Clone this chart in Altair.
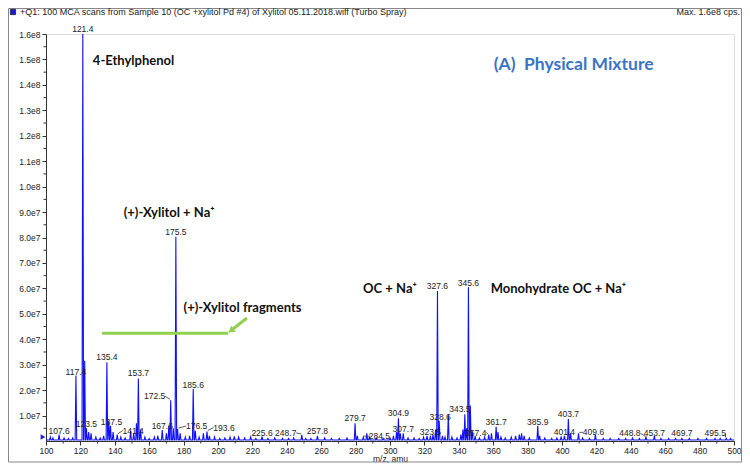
import altair as alt
import pandas as pd

# ---------------- data ----------------
# (m/z, apex intensity in units of 1e7 cps)
major_peaks = [
    (117.4, 2.57), (121.4, 16.0), (122.5, 3.15), (135.4, 3.10), (153.7, 2.46),
    (172.5, 1.60), (175.5, 8.03), (185.6, 2.04), (279.7, 0.70), (304.9, 0.89),
    (327.6, 5.90), (328.6, 0.80), (333.9, 1.05), (343.5, 1.05), (345.6, 6.04),
    (346.7, 1.40), (361.7, 0.56), (385.9, 0.60), (403.7, 0.86),
]
minor_peaks = [
    (102.5, 0.15), (104.0, 0.12), (107.6, 0.25), (110.5, 0.12), (113.0, 0.10),
    (115.5, 0.12), (123.5, 0.50), (124.8, 0.35), (126.2, 0.30), (129.0, 0.15),
    (131.5, 0.12), (133.5, 0.20), (136.5, 0.80), (137.5, 0.60), (139.0, 0.35),
    (141.4, 0.25), (143.5, 0.15), (146.0, 0.12), (149.2, 0.40), (151.0, 0.30),
    (152.6, 0.70), (155.0, 0.45), (157.5, 0.15), (160.0, 0.10), (163.0, 0.15),
    (165.0, 0.20), (167.6, 0.43), (170.0, 0.30), (171.4, 0.60), (174.0, 0.50),
    (176.5, 0.47), (178.0, 0.30), (181.0, 0.15), (183.5, 0.20), (186.8, 0.40),
    (189.0, 0.15), (191.5, 0.30), (193.6, 0.37), (195.0, 0.20), (198.0, 0.15),
    (201.0, 0.10), (204.0, 0.12), (207.0, 0.15), (209.5, 0.18), (212.0, 0.15),
    (215.5, 0.12), (219.0, 0.15), (222.0, 0.10), (225.6, 0.17), (229.0, 0.10),
    (233.0, 0.12), (237.5, 0.10), (241.0, 0.10), (244.0, 0.12), (248.7, 0.24),
    (251.0, 0.10), (254.0, 0.10), (257.8, 0.20), (262.0, 0.12), (266.0, 0.10),
    (270.5, 0.10), (275.0, 0.12), (281.0, 0.20), (284.5, 0.15), (286.5, 0.30),
    (288.0, 0.15), (292.0, 0.12), (296.0, 0.10), (300.0, 0.12), (302.0, 0.20),
    (303.8, 0.35), (306.0, 0.30), (307.7, 0.30), (310.5, 0.12), (314.0, 0.12),
    (317.0, 0.10), (319.5, 0.15), (321.5, 0.20), (323.5, 0.20), (325.0, 0.25),
    (326.5, 0.45), (330.5, 0.20), (332.0, 0.15), (336.0, 0.15), (339.0, 0.12),
    (341.2, 0.25), (342.4, 0.45), (344.5, 0.50), (347.8, 0.40), (349.5, 0.20),
    (352.0, 0.12), (355.0, 0.15), (357.4, 0.25), (359.0, 0.30), (362.8, 0.35),
    (364.5, 0.15), (367.0, 0.12), (370.5, 0.15), (373.0, 0.20), (375.2, 0.25),
    (376.5, 0.30), (378.0, 0.20), (381.0, 0.12), (387.0, 0.20), (390.0, 0.12),
    (394.0, 0.10), (397.0, 0.12), (399.5, 0.15), (401.4, 0.20), (405.0, 0.30),
    (409.6, 0.30), (412.0, 0.12), (416.0, 0.10), (419.4, 0.25), (424.0, 0.10),
    (428.0, 0.10), (433.0, 0.10), (437.0, 0.10), (441.0, 0.12), (445.0, 0.10),
    (448.8, 0.15), (453.7, 0.20), (457.5, 0.10), (462.0, 0.10), (466.0, 0.10),
    (469.7, 0.10), (474.0, 0.10), (479.0, 0.10), (484.0, 0.10), (489.0, 0.10),
    (492.0, 0.10), (495.5, 0.10), (498.0, 0.10),
]
baseline_e7 = 0.04

# labelled peaks
label_mz = [107.6, 117.4, 121.4, 123.5, 135.4, 137.5, 141.4, 153.7, 167.6, 172.5,
            175.5, 176.5, 185.6, 193.6, 225.6, 248.7, 257.8, 279.7, 284.5, 304.9,
            307.7, 323.5, 327.6, 328.6, 343.5, 345.6, 357.4, 361.7, 385.9, 401.4,
            403.7, 409.6, 448.8, 453.7, 469.7, 495.5]
# label offsets from the peak apex (pixels: right, up)
label_dx = [0, 0, 0, 0, 0, 1, 16, 0, 0, -16,
            0, 19, 0, 17, 0, -16, 0, 0, 16, 0,
            0, 0, 0, 1, -5, 0, -13, 0, 0, 0,
            0, 15, -16, 0, 0, -11]
label_dy = [4, 4, 5, 4, 5, 4, 4, 5, 4, 4,
            5, 3, 4, 4, 3.5, 2, 5, 5, 1, 5,
            4, 4, 5, 4, 5, 4, 2, 5, 4, 3.5,
            5.5, 1, 4, 2.6, 5, 5]

x_ticks = [100, 120, 140, 160, 180, 200, 220, 240, 260, 280, 300,
           320, 340, 360, 380, 400, 420, 440, 460, 480, 500]
x_minor = [110, 130, 150, 170, 190, 210, 230, 250, 270, 290,
           310, 330, 350, 370, 390, 410, 430, 450, 470, 490]
y_ticks = [1e7, 2e7, 3e7, 4e7, 5e7, 6e7, 7e7, 8e7, 9e7, 1e8,
           1.1e8, 1.2e8, 1.3e8, 1.4e8, 1.5e8, 1.6e8]
y_minor = [5e6, 1.5e7, 2.5e7, 3.5e7, 4.5e7, 5.5e7, 6.5e7, 7.5e7, 8.5e7,
           9.5e7, 1.05e8, 1.15e8, 1.25e8, 1.35e8, 1.45e8, 1.55e8]

# bold annotations: text, m/z of left edge, intensity of vertical centre
ann_text = ["4-Ethylphenol", "(+)-Xylitol + Na\u207a", "(+)-Xylitol fragments",
            "OC + Na\u207a", "Monohydrate OC + Na\u207a"]
ann_mz = [127.25, 145.2, 180.0, 284.35, 358.55]
ann_val = [1.494e8, 8.96e7, 5.23e7, 5.975e7, 5.975e7]
title_text = "(A)\u00a0 Physical Mixture"
title_mz = 360.3
title_val = 1.478e8

# green arrow (m/z, intensity)
arrow_line_mz = [132.5, 205.9]
arrow_line_val = [4.234e7, 4.234e7]
arrow_shaft_mz = [208.0, 216.8]
arrow_shaft_val = [4.364e7, 4.835e7]

header = "+Q1: 100 MCA scans from Sample 10 (OC +xylitol Pd #4) of Xylitol 05.11.2018.wiff (Turbo Spray)"
header_right = "Max. 1.6e8 cps."

# ---------------- build ----------------
W, H = 688, 407
K = 400 / W          # m/z per pixel
V = 1.6e8 / H        # cps per pixel
HW = 0.45            # peak half-width in m/z
FONT = "Liberation Sans, Arial, sans-serif"
BOLD = "Lato, Open Sans, DejaVu Sans, sans-serif"
BLUE = "#1010ff"
GREEN = "#92d050"

peaks = sorted(major_peaks + minor_peaks)
height = {mz: h * 1e7 for mz, h in peaks}
base = baseline_e7 * 1e7
pts = [(100.0, base)]
for mz, h in peaks:
    pts += [(mz - HW, base), (mz, h * 1e7), (mz + HW, base)]
pts.append((500.0, base))
spec = pd.DataFrame(pts, columns=["mz", "intensity"])
spec["order"] = range(len(spec))

lab_rows, lead_rows = [], []
for mz, dx, dy in zip(label_mz, label_dx, label_dy):
    h = height[mz]
    lx, ly = mz + dx * K, h + dy * V
    lab_rows.append({"mz": lx, "intensity": ly, "t": f"{mz:.1f}"})
    if abs(dx) >= 10:
        s = 1 if dx > 0 else -1
        lead_rows.append({"mz": lx - s * 10.5 * K, "intensity": ly,
                          "mz2": mz + s * 0.8 * K, "intensity2": h + 1 * V})
labels = pd.DataFrame(lab_rows)
leaders = pd.DataFrame(lead_rows)

x_scale = alt.Scale(domain=[100, 500], nice=False, zero=False)
y_scale = alt.Scale(domain=[0, 1.6e8], nice=False)
common_axis = dict(labelFont=FONT, labelFontSize=8.5, labelColor="#222",
                   tickColor="#333", domainColor="#333", tickSize=4, grid=False,
                   labelFlush=False, labelOverlap=False)
x_axis = alt.Axis(values=x_ticks, format="d", title="m/z, amu", titleFont=FONT,
                  titleFontSize=8.5, titleFontWeight="normal", titleColor="#222",
                  titlePadding=0, labelPadding=1, **common_axis)
y_axis = alt.Axis(values=y_ticks, title=None, labelPadding=2,
                  labelExpr="replace(format(datum.value, '.1e'), '+', '')", **common_axis)


def X(f):
    return alt.X(f, type="quantitative", scale=x_scale, axis=x_axis)


def Y(f):
    return alt.Y(f, type="quantitative", scale=y_scale, axis=y_axis)


line = alt.Chart(spec).mark_line(color=BLUE, strokeWidth=1.1, clip=False).encode(
    x=X("mz"), y=Y("intensity"), order="order:Q")

lab = alt.Chart(labels).mark_text(font=FONT, fontSize=8.5, color="#222",
                                  baseline="middle", align="center").encode(
    x=X("mz"), y=Y("intensity"), text="t:N")

lead = alt.Chart(leaders).mark_rule(color="#333", strokeWidth=0.8).encode(
    x=X("mz"), y=Y("intensity"), x2="mz2", y2="intensity2")

xminor = alt.Chart(pd.DataFrame({"mz": x_minor})).mark_rule(color="#333").encode(
    x=X("mz"), y=alt.value(H), y2=alt.value(H + 2.5))
yminor = alt.Chart(pd.DataFrame({"intensity": y_minor})).mark_rule(color="#333").encode(
    y=Y("intensity"), x=alt.value(-2.5), x2=alt.value(0))

ann = alt.Chart(pd.DataFrame({"mz": ann_mz, "intensity": ann_val, "t": ann_text})).mark_text(
    font=BOLD, fontSize=13, fontWeight="bold", color="#111", align="left", baseline="middle"
).encode(x=X("mz"), y=Y("intensity"), text="t:N")

ttl = alt.Chart(pd.DataFrame({"mz": [title_mz], "intensity": [title_val], "t": [title_text]})).mark_text(
    font=BOLD, fontSize=17.5, fontWeight="bold", color="#3a74c4", align="left", baseline="middle"
).encode(x=X("mz"), y=Y("intensity"), text="t:N")

arr1 = alt.Chart(pd.DataFrame({"mz": [arrow_line_mz[0]], "mz2": [arrow_line_mz[1]],
                               "intensity": [arrow_line_val[0]], "intensity2": [arrow_line_val[1]]})
                 ).mark_rule(color=GREEN, strokeWidth=3).encode(
    x=X("mz"), x2="mz2", y=Y("intensity"), y2="intensity2")
arr2 = alt.Chart(pd.DataFrame({"mz": [arrow_shaft_mz[0]], "mz2": [arrow_shaft_mz[1]],
                               "intensity": [arrow_shaft_val[0]], "intensity2": [arrow_shaft_val[1]]})
                 ).mark_rule(color=GREEN, strokeWidth=3).encode(
    x=X("mz"), x2="mz2", y=Y("intensity"), y2="intensity2")
head = alt.Chart(pd.DataFrame({"mz": [arrow_shaft_mz[0]], "intensity": [arrow_shaft_val[0]]})).mark_point(
    shape="triangle", filled=True, color=GREEN, opacity=1, size=55, angle=234
).encode(x=X("mz"), y=Y("intensity"))

one = pd.DataFrame({"t": [header], "r": [header_right]})
hdr = alt.Chart(one).mark_text(font=FONT, fontSize=9, color="#222", align="left",
                               baseline="middle").encode(
    x=alt.value(-26), y=alt.value(-22), text="t:N")
hdr_r = alt.Chart(one).mark_text(font=FONT, fontSize=9, color="#222", align="right",
                                 baseline="middle").encode(
    x=alt.value(694), y=alt.value(-22), text="r:N")
sq = alt.Chart(one).mark_square(color="#1a1acc", size=28, opacity=1, stroke="#000",
                                strokeWidth=0.6).encode(
    x=alt.value(-33), y=alt.value(-22))
tri = alt.Chart(one).mark_point(shape="triangle-right", filled=True, color="#2020dd",
                                size=30, opacity=1).encode(
    x=alt.value(-3), y=alt.value(H - 4))
frame = alt.Chart(one).mark_rect(fillOpacity=0, stroke="#888", strokeWidth=1).encode(
    x=alt.value(-37.5), x2=alt.value(695.5), y=alt.value(-25.5), y2=alt.value(428))

chart = alt.layer(
    frame, xminor, yminor, line, lead, lab, ann, ttl, arr1, arr2, head, hdr, hdr_r, sq, tri
).properties(
    width=W, height=H,
    padding={"left": 38, "top": 26, "right": 8, "bottom": 22},
    autosize=alt.AutoSizeParams(type="none"),
).configure_view(stroke=None).configure(background="white")

chart.save("out.html", embed_options={"renderer": "svg", "actions": False})
